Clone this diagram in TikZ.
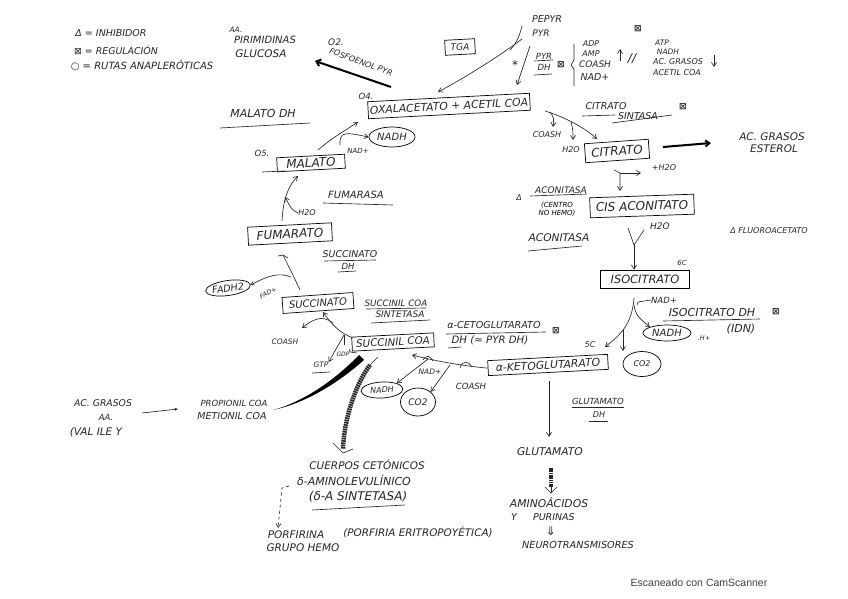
\documentclass[tikz,border=0pt]{standalone}
\usepackage{fontspec}
\setmainfont{DejaVu Sans}
\newfontfamily\camfont{Liberation Sans}
\usetikzlibrary{arrows.meta,shapes.geometric,calc}
\tikzset{
  lab/.style={inner sep=0pt,font=\fontsize{#1}{#1}\selectfont\itshape,align=center,text=black!85},
  lab/.default=7,
  box/.style={draw=black,line width=.7pt,inner sep=0pt,minimum height=17pt,font=\fontsize{#1}{#1}\selectfont\itshape,text=black!85},
  oval/.style={draw=black,line width=.7pt,ellipse,inner sep=0pt,font=\fontsize{#1}{#1}\selectfont\itshape,text=black!85},
  lin/.style={line width=.65pt,draw=black!85},
  arr/.style={lin,-{Straight Barb[length=4pt,width=5pt]}},
  reg/.style={inner sep=0pt,font=\fontsize{9}{9}\selectfont\bfseries,text=black!85},
  heavy/.style={line width=2pt,draw=black},
  hatch/.style={line width=4.5pt,draw=black!85,dash pattern=on 1.6pt off .7pt},
}
\begin{document}
\begin{tikzpicture}[x=1pt,y=-1pt]
\useasboundingbox[fill=white] (0,0) rectangle (848,599);

% legend
\node[lab=9.5] (l1) at (111,33) {Δ = INHIBIDOR};
\node[lab=9.4] (l2) at (116,50) {\upshape ⊠\itshape{} = REGULACIÓN};
\node[lab=10] (l3) at (142,65) {○ = RUTAS ANAPLERÓTICAS};
% upper left
\node[lab=7.5] (aa) at (236,30) {AA.};
\node[lab=10] (pirim) at (265,40) {PIRIMIDINAS};
\node[lab=10.5] (gluc) at (261,54) {GLUCOSA};
\node[lab=9] (o2) at (336,42) {O2.};
\node[lab=8,rotate=-20] (fosfo) at (361,62) {FOSFOENOL PYR};
\coordinate (fosfoS) at (391,87);
\coordinate (fosfoE) at (315,61);
\draw[heavy,-{Straight Barb[length=4pt,width=7pt]}] (fosfoS) -- (fosfoE);
\node[box=9,minimum width=30pt,minimum height=15pt,rotate=3] (tga) at (460,47) {TGA};
% top right
\node[lab=9.5] (pepyr) at (547,19) {PEPYR};
\node[lab=9] (pyr) at (541,33) {PYR};
\node[lab=8.5] (pyrl) at (544,56) {PYR};
\node[lab=8.5] (pyrdh) at (544,67) {DH};
\draw[lin] (534,61) -- (553,60);
\draw[lin] (534,75) -- (552,74);
\node[reg] (reg1) at (561,65) {⊠};
\node[reg] (reg2) at (638,29) {⊠};
\node[lab=12] (star) at (515,65) {*};
\node[lab=8] (adp) at (591,44) {ADP};
\node[lab=8] (amp) at (591,54) {AMP};
\node[lab=9] (coa1) at (595,64) {COASH};
\node[lab=9.5] (nad1) at (595,77) {NAD+};
\draw[lin] (574,44) -- (574,60) -- (571,65) -- (574,69) -- (574,86);
\coordinate (upA) at (620,61); \coordinate (upB) at (620,49);
\draw[arr] (upA) -- (upB);
\node[lab=12] (par) at (632,59) {//};
\node[lab=7.5] (atp) at (662,43) {ATP};
\node[lab=7.5] (nadhb) at (668,52) {NADH};
\node[lab=8] (acg) at (678,62) {AC. GRASOS};
\node[lab=8] (acet) at (677,73) {ACETIL COA};
\coordinate (dnA) at (714,55); \coordinate (dnB) at (714,67);
\draw[arr] (dnA) -- (dnB);
% main boxes
\node[box=10.8,minimum width=162pt,rotate=3] (oxal) at (449,106) {OXALACETATO + ACETIL COA};
\node[lab=8.5] (o4) at (366,96) {O4.};
\node[box=12,minimum width=68pt,minimum height=14pt,rotate=3] (malato) at (311,163) {MALATO};
\node[lab=8.5] (o5) at (262,153) {O5.};
\node[lab=7] (nadm) at (358,151) {NAD+};
\node[lab=11] (mdh) at (263,113) {MALATO DH};
\draw[lin] (220,128) -- (310,123);
\draw[lin] (262,172) -- (285,171);
\node[oval=10,minimum width=46pt,minimum height=20pt] (nadh1) at (392,137) {NADH};
\coordinate (mstart) at (318,150);\coordinate (oxEnd) at (358,122);
\draw[arr] (mstart) .. controls (330,140) .. (oxEnd);
\coordinate (nm1) at (340,145);
\draw[arr] (nm1) .. controls (339,130) and (348,133) .. (nadh1.west);
% fumarate
\node[lab=10] (fumasa) at (356,195) {FUMARASA};
\draw[lin] (323,203) -- (393,205);
\node[box=12,minimum width=84pt,minimum height=18pt,rotate=3] (fum) at (290,234) {FUMARATO};
\node[lab=8] (h2of) at (307,213) {H2O};
\coordinate (mbot) at (298,176);\coordinate (fumN) at (282,221);
\draw[arr] (fumN) .. controls (283,200) and (288,186) .. (mbot);
\coordinate (hfe) at (285,197);
\draw[arr] (h2of.west) .. controls (292,210) .. (hfe);
% succinate
\node[lab=9.4] (sdh1) at (350,254) {SUCCINATO};
\node[lab=8.5] (sdh2) at (348,266) {DH};
\draw[lin] (324,261) -- (376,260);
\draw[lin] (338,272) -- (356,271);
\node[box=10,minimum width=71pt,minimum height=16pt,rotate=4] (suc) at (318,303) {SUCCINATO};
\node[oval=9.5,minimum width=44pt,minimum height=15pt,rotate=8] (fadh) at (228,288) {FADH2};
\node[lab=6.5,rotate=30] (fad) at (268,293) {FAD+};
\coordinate (cS) at (300,290);\coordinate (cE) at (283,255);
\draw[lin] (cS) .. controls (294,277) and (288,265) .. (cE) -- (278,256);
\draw[lin] (cE) -- (288,258);
\coordinate (cB) at (291,277);
\draw[lin,-{Straight Barb[length=3pt,width=4pt]}] (cB) .. controls (278,272) and (268,276) .. (fadh.east);
% succinyl
\node[lab=8.8] (scs1) at (396,303) {SUCCINIL COA};
\node[lab=9] (scs2) at (400,314) {SINTETASA};
\draw[lin] (366,309) -- (426,308);
\draw[lin] (371,323) -- (430,320);
\node[box=10.3,minimum width=82pt,minimum height=14pt,rotate=3] (sca) at (393,342) {SUCCINIL COA};
\node[lab=7.5] (coash1) at (285,342) {COASH};
\node[lab=7.5] (gtp) at (321,365) {GTP};
\draw[lin] (312,373) -- (330,372);
\node[lab=6] (gdp) at (343,354) {GDP};
\coordinate (sc1) at (353,338);\coordinate (sucS) at (323,312);
\draw[arr] (sc1) .. controls (340,333) and (332,325) .. (sucS);
\coordinate (sc2) at (333,323);\coordinate (coE) at (302,328);
\draw[arr] (sc2) .. controls (322,314) and (312,320) .. (coE);
\coordinate (sc3) at (344,335);
\draw[lin] (344,335) -- (344,345);
\draw[arr] (sc3) -- (gtp.north east);
\draw[lin] (350,349) .. controls (349,352) .. (357,353);
% alpha KG
\node[box=10.8,minimum width=120pt,minimum height=15pt,rotate=3] (akg) at (548,365) {α-KETOGLUTARATO};
\node[lab=9.6] (akd1) at (494,325) {α-CETOGLUTARATO};
\node[lab=10.2] (akd2) at (490,340) {DH (≈ PYR DH)};
\draw[lin] (446,334) -- (546,332);
\draw[lin] (448,348) -- (461,347);
\node[reg] (reg3) at (556,331) {⊠};
\node[oval=8,minimum width=42pt,minimum height=16pt,rotate=3] (nadh2) at (382,390) {NADH};
\node[oval=9,minimum width=35pt,minimum height=28pt] (co2a) at (418,402) {CO2};
\node[lab=7.5] (nada) at (430,372) {NAD+};
\node[lab=8.5] (coash2) at (471,386) {COASH};
\coordinate (scaE) at (412,355);
\draw[arr] (akg.west) .. controls (455,365) and (432,360) .. (scaE);
\coordinate (ka) at (428,359);\coordinate (kb) at (450,365);
\draw[arr] (ka) -- (nadh2.north east);
\draw[arr] (kb) -- (co2a.north east);
\draw[lin] (423,360) .. controls (427,354) and (430,356) .. (433,361);
\draw[lin] (460,368) .. controls (462,360) and (469,361) .. (472,367);
% isocitrate
\node[box=11.4,minimum width=89pt,minimum height=18pt] (iso) at (645,279) {ISOCITRATO};
\node[lab=7] (c6) at (682,263) {6C};
\node[lab=8.5] (nadi) at (664,300) {NAD+};
\node[oval=10,minimum width=48pt,minimum height=16pt] (nadh3) at (667,333) {NADH};
\node[lab=6.5] (hp) at (704,338) {.H+};
\node[oval=8,minimum width=38pt,minimum height=25pt] (co2b) at (642,364) {CO2};
\node[lab=11] (idh) at (712,312) {ISOCITRATO DH};
\node[lab=11] (idn) at (741,329) {(IDN)};
\draw[lin] (663,321) -- (760,319);
\node[reg] (reg4) at (776,312) {⊠};
\node[lab=8] (c5) at (590,345) {5C};
\coordinate (isoS) at (634,298);\coordinate (akN) at (605,347);\coordinate (kNad) at (623,330);
\draw[arr] (isoS) .. controls (632,325) and (620,335) .. (akN);
\draw[arr] (634,305) .. controls (636,315) .. (nadh3.north west);
\draw[arr] (kNad) -- (623,351);
\draw[lin] (637,305) -- (638,302) -- (nadi.west);
% cis aconitate
\node[box=12,minimum width=104pt,minimum height=20pt,rotate=2] (cis) at (642,206) {CIS ACONITATO};
\node[lab=9] (h2oc) at (660,226) {H2O};
\node[lab=9] (ac1) at (561,190) {ACONITASA};
\draw[lin] (530,196) -- (587,194);
\node[lab=8] (dl2) at (519,198) {Δ};
\node[font=\fontsize{7}{8}\selectfont\itshape,align=center,inner sep=0pt] (centro) at (557,209) {(CENTRO\\NO HEMO)};
\node[lab=10.6] (ac2) at (559,238) {ACONITASA};
\draw[lin] (528,251) -- (582,246);
\node[lab=8] (fluo) at (769,231) {Δ FLUOROACETATO};
\coordinate (yL) at (628,228);\coordinate (yR) at (644,230);\coordinate (yM) at (634,245);
\draw[lin] (yL) -- (yM) -- (yR);
\draw[arr] (yM) -- (iso.north -| yM);
% citrate
\node[box=12,minimum width=64pt,minimum height=19pt,rotate=4] (cit) at (617,151) {CITRATO};
\node[lab=8] (h2oa) at (571,150) {H2O};
\node[lab=8] (coash3) at (547,135) {COASH};
\node[lab=9.5] (cs1) at (606,106) {CITRATO};
\node[lab=9.5] (cs2) at (638,116) {SINTASA};
\draw[lin] (582,116) -- (615,115);
\draw[lin] (612,123) -- (672,115);
\node[reg] (reg5) at (683,107) {⊠};
\coordinate (cSt) at (545,111);\coordinate (citE) at (597,139);
\draw[arr] (cSt) .. controls (565,117) and (585,128) .. (citE);
\draw[arr] (550,112) .. controls (554,118) .. (553,127);
\draw[arr] (571,122) .. controls (573,130) .. (573,140);
\coordinate (ftA) at (663,147);\coordinate (ftB) at (711,143);
\draw[heavy,-{Straight Barb[length=4pt,width=6pt]}] (ftA) -- (ftB);
\node[lab=10.5] (ag) at (772,137) {AC. GRASOS};
\node[lab=10.5] (est) at (774,149) {ESTEROL};
\coordinate (ca) at (614,170);\coordinate (cb) at (620,173);
\draw[arr] (ca) -- (cb) -- (620,191);
\draw[arr] (cb) -- (641,173);
\node[lab=8] (h2ob) at (664,168) {+H2O};
% pyr arrows
\coordinate (pe1) at (522,26);\coordinate (py1) at (522,39);\coordinate (oxTop) at (438,92);\coordinate (dh1) at (530,46);\coordinate (dh2) at (517,85);
\draw[lin] (pe1) .. controls (520,34) and (517,43) .. (510,50);
\draw[arr] (py1) .. controls (505,52) and (470,75) .. (oxTop);
\draw[arr] (dh1) -- (dh2);
% glutamate
\node[lab=8.4] (gd1) at (598,401) {GLUTAMATO};
\draw[lin] (572,407) -- (624,407);
\node[lab=8] (gd2) at (599,415) {DH};
\draw[lin] (589,421) -- (608,421);
\node[lab=10.7] (glu) at (550,452) {GLUTAMATO};
\coordinate (kgS) at (549,381);\coordinate (gluN) at (549,437);
\draw[arr] (kgS) -- (gluN);
\node[lab=10.8] (aminoa) at (549,503) {AMINOÁCIDOS};
\node[lab=9.5] (purin) at (543,517) {Y\hspace{16pt}PURINAS};
\node[lab=12] (imp) at (551,531) {⇓};
\node[lab=9.7] (neuro) at (578,545) {NEUROTRANSMISORES};
\coordinate (hgS) at (551,468);\coordinate (hgE) at (551,487);
\draw[hatch,line width=3.5pt] (hgS) -- (hgE);
\draw[lin] (545,487) -- (551,493) -- (557,487);
\draw[lin] (551,486) -- (551,493);
% lower left
\node[lab=9.3] (g1) at (103,403) {AC. GRASOS};
\node[lab=8.5] (g2) at (106,417) {AA.};
\node[lab=10.5] (g3) at (96,432) {(VAL ILE Y};
\node[lab=8.5] (prop) at (234,403) {PROPIONIL COA};
\node[lab=9.5] (meti) at (232,416) {METIONIL COA};
\coordinate (aA) at (142,413);\coordinate (aB) at (178,409);
\draw[lin,-{Latex[length=3pt,width=3pt]}] (aA) -- (aB);
\fill[black] (273,410) .. controls (303,402) and (335,380) .. (359,355) -- (364,360) .. controls (338,383) and (306,403) .. (273,410) -- cycle;
\coordinate (hcS) at (378,357);\coordinate (hcE) at (343,449);
\draw[lin] (hcS) -- (370,365);
\draw[hatch] (370,365) .. controls (355,385) and (344,420) .. (hcE);
\draw[lin] (333,443) -- (343,453) -- (353,449);
% bottom
\node[lab=10.5] (cuer) at (367,465) {CUERPOS CETÓNICOS};
\node[lab=11] (ala) at (354,480) {δ-AMINOLEVULÍNICO};
\node[lab=12] (dss) at (358,497) {(δ-A SINTETASA)};
\draw[lin] (312,510) -- (405,505);
\coordinate (dA) at (289,486);\coordinate (dM) at (282,488);\coordinate (dB) at (278,528);
\draw[lin,dashed,-{Straight Barb[length=4pt,width=5pt]}] (dA) -- (dM) -- (dB);
\node[lab=10.5] (porf) at (296,535) {PORFIRINA};
\node[lab=10.5] (hemo) at (303,548) {GRUPO HEMO};
\node[lab=10.4] (peri) at (418,532) {(PORFIRIA ERITROPOYÉTICA)};
\node[inner sep=0pt,font=\fontsize{10.5}{11}\camfont,text=black!75] (cam) at (699,583) {Escaneado con CamScanner};
\end{tikzpicture}
\end{document}
